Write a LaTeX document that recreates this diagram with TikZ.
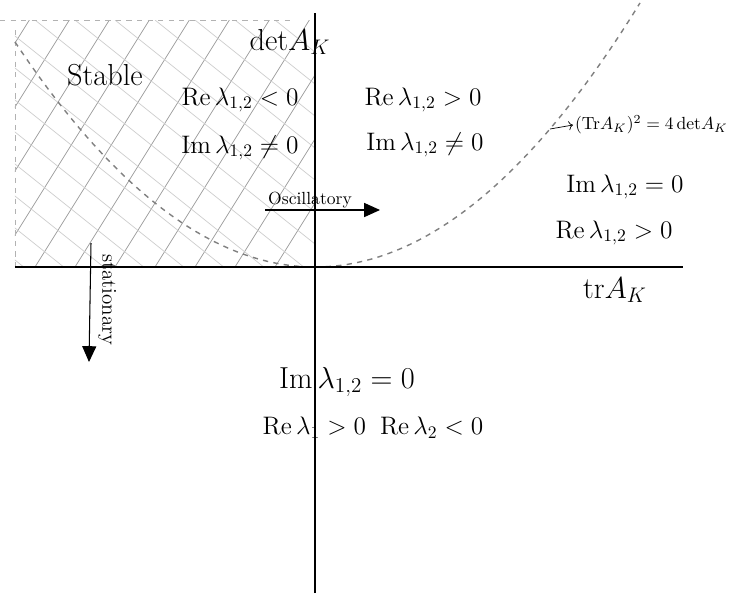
\documentclass[tikz,border=0pt]{standalone}
\usepackage{amsmath}
\usetikzlibrary{arrows.meta}

\begin{document}
\begin{tikzpicture}[x=0.02cm, y=0.02cm,
    hatchA/.style={gray!80, thin},
    hatchB/.style={gray!40, thin},
    curve/.style={gray, dashed, thick},
    frame/.style={gray!60, dashed},
    lbl/.style={font=\Large},
    big/.style={font=\LARGE}]

    \useasboundingbox (-315,-326) rectangle (414,267);

    % Hatched stable quadrant
    \begin{scope}
      \clip (-300,0) rectangle (0,247);
      \foreach \s in {-440,-400,...,0}
        \draw[hatchA] (\s,0) -- ++(160,256);
      \foreach \s in {-600,-560,...,0}
        \draw[hatchB] (\s,247) -- ++(320,-256);
    \end{scope}

    % Dashed frame of the quadrant
    \coordinate (frTL) at (-315,247);
    \coordinate (frTR) at (-25,247);
    \coordinate (frLT) at (-300,237);
    \coordinate (frLB) at (-300,0);
    \draw[frame] (frTL) -- (frTR);
    \draw[frame] (frLT) -- (frLB);

    % Parabola (trA)^2 = 4 detA
    \draw[curve] plot[domain=-300:325, samples=80] (\x, {(\x/20)^2});

    % Axes
    \coordinate (xl) at (-300,0);
    \coordinate (xr) at (368,0);
    \coordinate (yb) at (0,-326);
    \coordinate (yt) at (0,254);
    \draw[semithick] (xl) -- (xr);
    \draw[semithick] (yb) -- (yt);

    \node[big] (detlbl) at (-25,225) {$\mathrm{det}A_K$};
    \node[big] (trlbl) at (300,-23) {$\mathrm{tr}A_K$};

    % Region labels
    \node[big] (stable) at (-210,192) {Stable};
    \node[lbl] (reneg) at (-75,167) {$\mathrm{Re}\,\lambda_{1,2}<0$};
    \node[lbl] (imneqL) at (-75,119) {$\mathrm{Im}\,\lambda_{1,2}\neq0$};
    \node[lbl] (reposU) at (108,167) {$\mathrm{Re}\,\lambda_{1,2}>0$};
    \node[lbl] (imneqR) at (110,122) {$\mathrm{Im}\,\lambda_{1,2}\neq0$};
    \node[lbl] (imzeroR) at (310,80) {$\mathrm{Im}\,\lambda_{1,2}=0$};
    \node[lbl] (reposR) at (299,34) {$\mathrm{Re}\,\lambda_{1,2}>0$};
    \node[big] (imzeroB) at (32,-115) {$\mathrm{Im}\,\lambda_{1,2}=0$};
    \node[lbl] (resaddle) at (58,-161) {$\mathrm{Re}\,\lambda_1>0\;\;\mathrm{Re}\,\lambda_2<0$};

    % Label of the curve
    \coordinate (oncurve) at (235,138);
    \node[anchor=west, inner sep=1pt] (curvelbl) at (258,142) {$(\mathrm{Tr}A_K)^2=4\,\mathrm{det}A_K$};
    \draw[->] (oncurve) -- (curvelbl.west);

    % Oscillatory arrow
    \coordinate (oscA) at (-50,57);
    \coordinate (oscB) at (65,57);
    \draw[semithick, -{Triangle[length=9pt,width=8pt]}] (oscA) -- (oscB);
    \node[anchor=south, inner sep=1pt] (osclbl) at (-5,57) {Oscillatory};

    % Stationary arrow
    \coordinate (stA) at (-224,24);
    \coordinate (stB) at (-226,-95);
    \draw[semithick, -{Triangle[length=9pt,width=8pt]}] (stA) -- (stB);
    \node[rotate=-90, font=\large] (statlbl) at (-208,-33) {stationary};

\end{tikzpicture}
\end{document}
